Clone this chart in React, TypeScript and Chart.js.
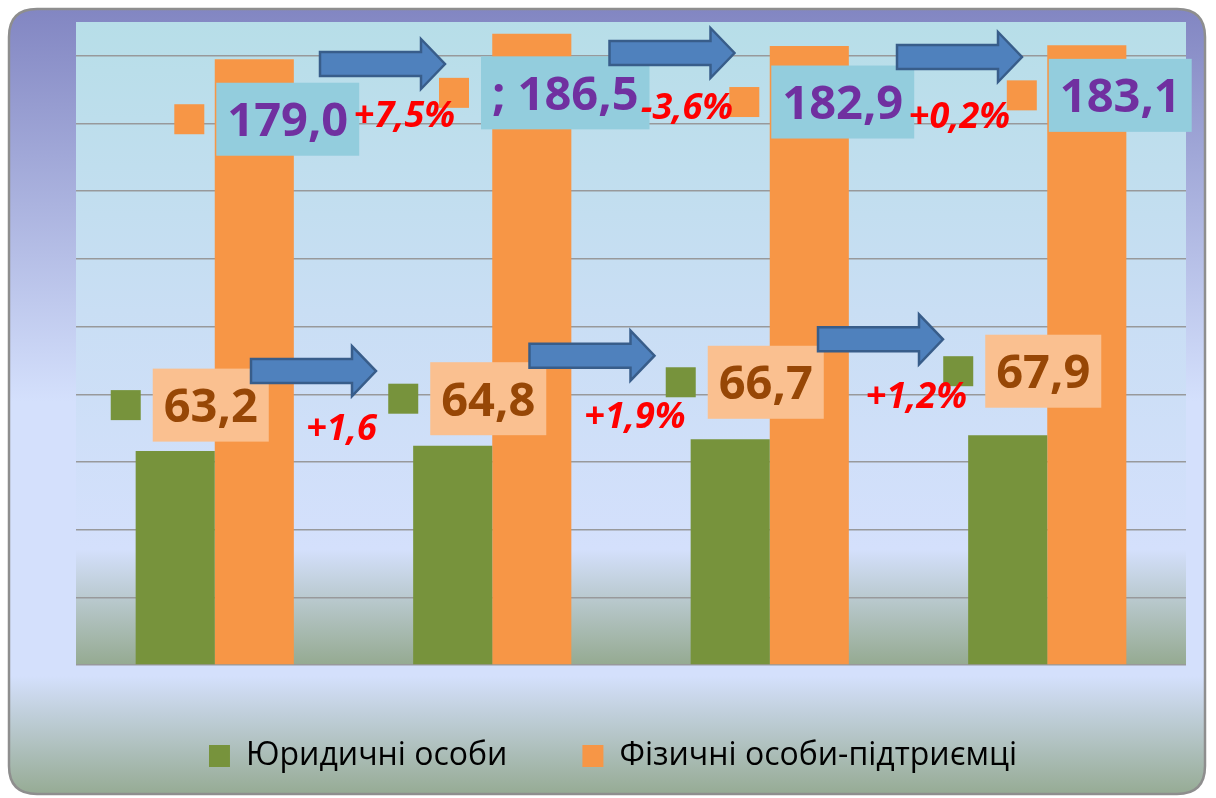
import React, { useEffect, useRef } from "react";
import { Chart, registerables } from "chart.js";

Chart.register(...registerables);

// ---------- data ----------
const categories = ["1", "2", "3", "4"];
const legalLabel = "Юридичні особи";
const entrepreneurLabel = "Фізичні особи-підтриємці";
const legalValues = [63.2, 64.8, 66.7, 67.9];
const entrepreneurValues = [179.0, 186.5, 182.9, 183.1];
const entrepreneurPrefixes = ["", "; ", "", ""];
const legalPrefixes = ["", "", "", ""];
const legalChanges = ["+1,6", "+1,9%", "+1,2%"];
const entrepreneurChanges = ["+7,5%", "-3,6%", "+0,2%"];
const yMin = 0;
const yMax = 190;
const yStep = 20;
const lastGridValue = 180;

// ---------- styles / layout (pixel offsets of the overlay annotations) ----------
const GREEN = "#77933c";
const ORANGE = "#f79646";
const UP_BOX = "#93cddd";
const UP_TEXT = "#7030a0";
const LOW_BOX = "#fac090";
const LOW_TEXT = "#974706";
const RED = "#ff0000";
const FONT = '"Open Sans", "Noto Sans", sans-serif';

const upBoxDx = 73;
const upBoxDy = [60, 59, 56, 50];
const lowBoxDx = -4;
const lowBoxDy = [-46, -47, -57, -64];
const upChangeDx = [51, 56, 51];
const upChangeBase = [105, 97, 106]; // from chart area top
const lowChangeDx = [-12, 4, 8];
const lowChangeBase = [-11, -18, -31]; // from left green bar top
const upArrowDx = [29, 41, 51];
const upArrowDy = [42, 31, 35]; // from chart area top
const lowArrowDx = [-40, -39, -28];
const lowArrowDy = [-80, -90, -100]; // from left green bar top

const fmt = (v: number) => v.toFixed(1).replace(".", ",");

function drawArrow(ctx: CanvasRenderingContext2D, cx: number, cy: number) {
  const len = 125, shaft = 24, headH = 50, headL = 24;
  const x0 = cx - len / 2, x1 = cx + len / 2, xb = x1 - headL;
  ctx.beginPath();
  ctx.moveTo(x0, cy - shaft / 2);
  ctx.lineTo(xb, cy - shaft / 2);
  ctx.lineTo(xb, cy - headH / 2);
  ctx.lineTo(x1, cy);
  ctx.lineTo(xb, cy + headH / 2);
  ctx.lineTo(xb, cy + shaft / 2);
  ctx.lineTo(x0, cy + shaft / 2);
  ctx.closePath();
  ctx.fillStyle = "#4f81bd";
  ctx.fill();
  ctx.lineWidth = 2.5;
  ctx.strokeStyle = "#385d8a";
  ctx.stroke();
}

function drawValueLabel(
  ctx: CanvasRenderingContext2D,
  text: string,
  cx: number,
  cy: number,
  boxColor: string,
  textColor: string,
  keyColor: string
) {
  ctx.font = `bold 47px ${FONT}`;
  const tw = ctx.measureText(text).width;
  const w = tw + 22;
  const h = 73;
  const left = cx - w / 2;
  ctx.fillStyle = boxColor;
  ctx.fillRect(left, cy - h / 2, w, h);
  ctx.fillStyle = keyColor;
  ctx.fillRect(left - 12 - 30, cy - 15, 30, 30);
  ctx.fillStyle = textColor;
  ctx.textAlign = "center";
  ctx.textBaseline = "alphabetic";
  ctx.fillText(text, cx, cy + 17);
}

function roundRect(ctx: CanvasRenderingContext2D, x: number, y: number, w: number, h: number, r: number) {
  ctx.beginPath();
  ctx.moveTo(x + r, y);
  ctx.lineTo(x + w - r, y);
  ctx.quadraticCurveTo(x + w, y, x + w, y + r);
  ctx.lineTo(x + w, y + h - r);
  ctx.quadraticCurveTo(x + w, y + h, x + w - r, y + h);
  ctx.lineTo(x + r, y + h);
  ctx.quadraticCurveTo(x, y + h, x, y + h - r);
  ctx.lineTo(x, y + r);
  ctx.quadraticCurveTo(x, y, x + r, y);
  ctx.closePath();
}

const decorPlugin = {
  id: "decor",
  beforeDraw(chart: any) {
    const { ctx, chartArea: a, width, height } = chart;
    ctx.save();
    ctx.clearRect(0, 0, width, height);
    // outer frame
    const fx = 9, fy = 9, fw = width - 12 - fx + 1, fh = height - 4 - fy;
    const g = ctx.createLinearGradient(0, fy, 0, fy + fh);
    g.addColorStop(0, "#8286c2");
    g.addColorStop(0.5, "#d4e0fc");
    g.addColorStop(0.85, "#d4e0fc");
    g.addColorStop(1, "#96ab94");
    roundRect(ctx, fx, fy, fw, fh, 28);
    ctx.fillStyle = g;
    ctx.fill();
    ctx.lineWidth = 2.5;
    ctx.strokeStyle = "#8e8e8e";
    ctx.stroke();
    // plot area
    const pg = ctx.createLinearGradient(0, a.top, 0, a.bottom);
    pg.addColorStop(0, "#b7dee8");
    pg.addColorStop(0.45, "#c9def4");
    pg.addColorStop(0.82, "#d4e0fc");
    pg.addColorStop(1, "#95aa91");
    ctx.fillStyle = pg;
    ctx.fillRect(a.left, a.top, a.right - a.left, a.bottom - a.top);
    ctx.restore();
  },
  afterDatasetsDraw(chart: any) {
    const { ctx, chartArea: a } = chart;
    const xs = chart.scales.x;
    const ys = chart.scales.y;
    const cx = categories.map((_, i) => xs.getPixelForValue(i));
    const greenTop = legalValues.map((v) => ys.getPixelForValue(v));
    const orangeTop = entrepreneurValues.map((v) => ys.getPixelForValue(v));
    ctx.save();
    // value labels
    entrepreneurValues.forEach((v, i) => {
      drawValueLabel(ctx, entrepreneurPrefixes[i] + fmt(v), cx[i] + upBoxDx, orangeTop[i] + upBoxDy[i], UP_BOX, UP_TEXT, ORANGE);
    });
    legalValues.forEach((v, i) => {
      drawValueLabel(ctx, legalPrefixes[i] + fmt(v), cx[i] + lowBoxDx, greenTop[i] + lowBoxDy[i], LOW_BOX, LOW_TEXT, GREEN);
    });
    // arrows
    for (let i = 0; i < categories.length - 1; i++) {
      const mid = (cx[i] + cx[i + 1]) / 2;
      drawArrow(ctx, mid + upArrowDx[i], a.top + upArrowDy[i]);
      drawArrow(ctx, mid + lowArrowDx[i], greenTop[i] + lowArrowDy[i]);
    }
    // change texts
    ctx.font = `italic bold 36px ${FONT}`;
    ctx.fillStyle = RED;
    ctx.textAlign = "center";
    ctx.textBaseline = "alphabetic";
    for (let i = 0; i < categories.length - 1; i++) {
      const mid = (cx[i] + cx[i + 1]) / 2;
      ctx.fillText(entrepreneurChanges[i], mid + upChangeDx[i], a.top + upChangeBase[i]);
      ctx.fillText(legalChanges[i], mid + lowChangeDx[i], greenTop[i] + lowChangeBase[i]);
    }
    ctx.restore();
  },
};

export default function App() {
  const ref = useRef<HTMLCanvasElement | null>(null);
  useEffect(() => {
    if (!ref.current) return;
    const chart = new Chart(ref.current, {
      type: "bar",
      data: {
        labels: categories,
        datasets: [
          {
            label: legalLabel,
            data: legalValues,
            backgroundColor: GREEN,
            borderWidth: 0,
            categoryPercentage: 0.57,
            barPercentage: 1,
          },
          {
            label: entrepreneurLabel,
            data: entrepreneurValues,
            backgroundColor: ORANGE,
            borderWidth: 0,
            categoryPercentage: 0.57,
            barPercentage: 1,
          },
        ],
      },
      options: {
        responsive: false,
        animation: false,
        devicePixelRatio: 1,
        layout: { padding: { left: 40, right: 30, top: 22, bottom: 16 } },
        scales: {
          x: { display: false },
          y: {
            min: yMin,
            max: yMax,
            afterFit: (s: any) => {
              s.width = 36;
            },
            ticks: { display: false, stepSize: yStep },
            border: { display: false },
            grid: {
              drawTicks: false,
              lineWidth: 1.5,
              color: (c: any) => (c.tick && c.tick.value > lastGridValue ? "rgba(0,0,0,0)" : "#98999b"),
            },
          },
        },
        plugins: {
          tooltip: { enabled: false },
          legend: {
            position: "bottom",
            labels: {
              boxWidth: 21,
              boxHeight: 22,
              padding: 75,
              color: "#000000",
              font: { size: 32, family: FONT },
            },
          },
        },
      },
      plugins: [decorPlugin],
    });
    return () => chart.destroy();
  }, []);
  return (
    <canvas
      ref={ref}
      width={1216}
      height={798}
      style={{ position: "fixed", left: 0, top: 0, width: 1216, height: 798 }}
    />
  );
}
